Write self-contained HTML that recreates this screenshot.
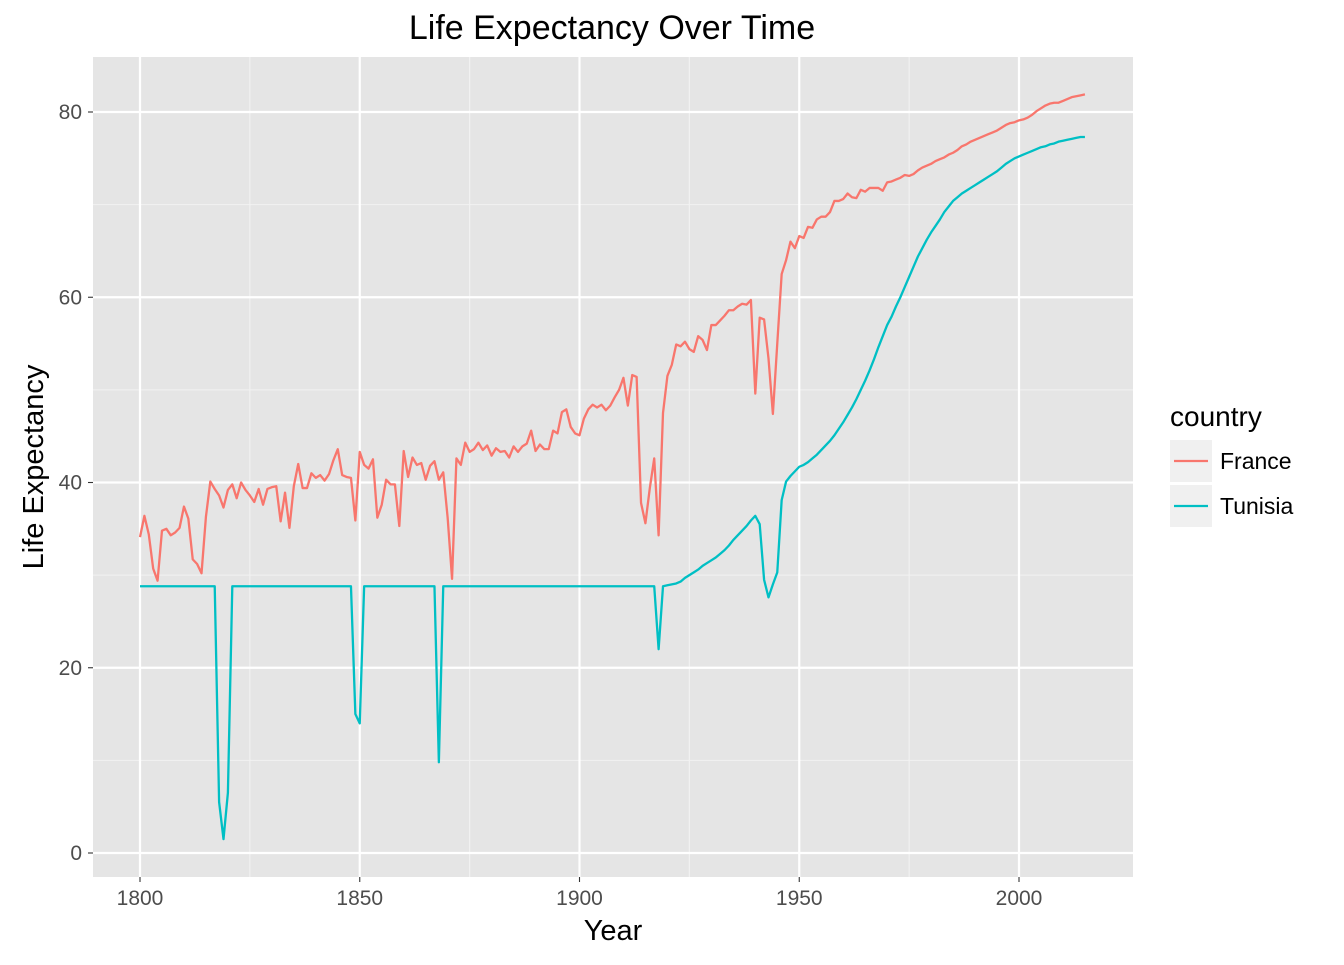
<!DOCTYPE html>
<html><head><meta charset="utf-8"><style>
body{margin:0;background:#fff}
svg text{font-family:"Liberation Sans",Arial,sans-serif}
</style></head><body>
<svg id="chart" width="1344" height="960" xmlns="http://www.w3.org/2000/svg">
<rect width="1344" height="960" fill="#fff"/>
<g id="panel"></g>
<text x="612" y="39" font-size="34" text-anchor="middle" fill="#000">Life Expectancy Over Time</text>
<text x="613" y="940" font-size="29" text-anchor="middle" fill="#000">Year</text>
<text transform="translate(43,467) rotate(-90)" font-size="29" text-anchor="middle" fill="#000">Life Expectancy</text>
<g>
<text x="1170" y="426" font-size="28" fill="#000">country</text>
<rect x="1170" y="440" width="42" height="42" fill="#f0f0f0"/>
<line x1="1174" y1="461" x2="1208" y2="461" stroke="#F8766D" stroke-width="2.3"/>
<text x="1220" y="469" font-size="23" fill="#000">France</text>
<rect x="1170" y="485" width="42" height="42" fill="#f0f0f0"/>
<line x1="1174" y1="506" x2="1208" y2="506" stroke="#00BFC4" stroke-width="2.3"/>
<text x="1220" y="514" font-size="23" fill="#000">Tunisia</text>
</g>
</svg>
<script>
const startYear = 1800;
const france = [34.1,36.4,34.4,30.7,29.4,34.8,35.0,34.3,34.6,35.1,37.4,36.1,31.7,31.2,30.2,36.3,40.1,39.3,38.6,37.3,
39.2,39.8,38.3,40.0,39.2,38.6,37.9,39.3,37.6,39.3,39.5,39.6,35.8,38.9,35.1,39.6,42.0,39.4,39.4,41.0,
40.5,40.8,40.2,40.9,42.4,43.6,40.8,40.6,40.5,35.9,43.3,41.9,41.5,42.5,36.2,37.6,40.3,39.8,39.8,35.3,
43.4,40.6,42.7,41.9,42.1,40.3,41.8,42.3,40.3,41.1,36.2,29.6,42.6,41.9,44.3,43.3,43.6,44.3,43.5,44.0,
42.9,43.7,43.3,43.4,42.7,43.9,43.3,43.9,44.2,45.6,43.4,44.1,43.6,43.6,45.6,45.3,47.6,47.9,46.0,45.3,
45.1,46.9,47.9,48.4,48.1,48.4,47.8,48.3,49.2,50.0,51.3,48.3,51.6,51.4,37.8,35.6,39.4,42.6,34.3,47.5,
51.5,52.7,54.9,54.7,55.2,54.4,54.1,55.8,55.4,54.3,57.0,57.0,57.5,58.0,58.6,58.6,59.0,59.3,59.2,59.7,
49.6,57.8,57.6,53.4,47.4,55.0,62.5,64.0,66.0,65.3,66.6,66.4,67.6,67.5,68.4,68.7,68.7,69.2,70.4,70.4,
70.6,71.2,70.8,70.7,71.6,71.4,71.8,71.8,71.8,71.5,72.4,72.5,72.7,72.9,73.2,73.1,73.3,73.7,74.0,74.2,
74.4,74.7,74.9,75.1,75.4,75.6,75.9,76.3,76.5,76.8,77.0,77.2,77.4,77.6,77.8,78.0,78.3,78.6,78.8,78.9,
79.1,79.2,79.4,79.7,80.1,80.4,80.7,80.9,81.0,81.0,81.2,81.4,81.6,81.7,81.8,81.9];
const tunisia = [28.8,28.8,28.8,28.8,28.8,28.8,28.8,28.8,28.8,28.8,28.8,28.8,28.8,28.8,28.8,28.8,28.8,28.8,5.5,1.5,
6.5,28.8,28.8,28.8,28.8,28.8,28.8,28.8,28.8,28.8,28.8,28.8,28.8,28.8,28.8,28.8,28.8,28.8,28.8,28.8,
28.8,28.8,28.8,28.8,28.8,28.8,28.8,28.8,28.8,15.0,14.0,28.8,28.8,28.8,28.8,28.8,28.8,28.8,28.8,28.8,
28.8,28.8,28.8,28.8,28.8,28.8,28.8,28.8,9.8,28.8,28.8,28.8,28.8,28.8,28.8,28.8,28.8,28.8,28.8,28.8,
28.8,28.8,28.8,28.8,28.8,28.8,28.8,28.8,28.8,28.8,28.8,28.8,28.8,28.8,28.8,28.8,28.8,28.8,28.8,28.8,
28.8,28.8,28.8,28.8,28.8,28.8,28.8,28.8,28.8,28.8,28.8,28.8,28.8,28.8,28.8,28.8,28.8,28.8,22.0,28.8,
28.9,29.0,29.1,29.3,29.7,30.0,30.3,30.6,31.0,31.3,31.6,31.9,32.3,32.7,33.2,33.8,34.3,34.8,35.3,35.9,
36.4,35.5,29.5,27.6,29.0,30.3,38.1,40.1,40.7,41.2,41.7,41.9,42.2,42.6,43.0,43.5,44.0,44.5,45.1,45.8,
46.5,47.3,48.1,49.0,50.0,51.0,52.1,53.3,54.6,55.8,57.0,57.9,59.0,60.0,61.1,62.2,63.3,64.4,65.3,66.2,
67.0,67.7,68.4,69.2,69.8,70.4,70.8,71.2,71.5,71.8,72.1,72.4,72.7,73.0,73.3,73.6,74.0,74.4,74.7,75.0,
75.2,75.4,75.6,75.8,76.0,76.2,76.3,76.5,76.6,76.8,76.9,77.0,77.1,77.2,77.3,77.3];
const xTicks = [1800,1850,1900,1950,2000];
const xMinor = [1825,1875,1925,1975];
const yTicks = [0,20,40,60,80];
const yMinor = [10,30,50,70];

const PX0=93, PX1=1133, PY0=57, PY1=877;
const xs = v => 140 + (v-1800)*(1019-140)/200;
const ys = v => 853 - v*(853-112)/80;
const NS='http://www.w3.org/2000/svg';
const panel=document.getElementById('panel');
const svg=document.getElementById('chart');
function mk(tag,attrs,parent){const e=document.createElementNS(NS,tag);for(const k in attrs)e.setAttribute(k,attrs[k]);(parent||panel).appendChild(e);return e;}
const bg=mk('rect',{x:PX0,y:PY0,width:PX1-PX0,height:PY1-PY0,fill:'#e5e5e5'});


xMinor.forEach(v=>{const l=mk('line',{x1:xs(v),x2:xs(v),y1:PY0,y2:PY1,stroke:'#f2f2f2','stroke-width':1.1});

});
yMinor.forEach(v=>{const l=mk('line',{x1:PX0,x2:PX1,y1:ys(v),y2:ys(v),stroke:'#f2f2f2','stroke-width':1.1});

});
xTicks.forEach(v=>{const l=mk('line',{x1:xs(v),x2:xs(v),y1:PY0,y2:PY1,stroke:'#fff','stroke-width':2.2});


const t=mk('line',{x1:xs(v),x2:xs(v),y1:PY1,y2:PY1+5,stroke:'#333','stroke-width':1.1},svg);


const tx=mk('text',{x:xs(v),y:905,'font-size':21,'text-anchor':'middle',fill:'#4d4d4d'},svg);tx.textContent=v;

});
yTicks.forEach(v=>{const l=mk('line',{x1:PX0,x2:PX1,y1:ys(v),y2:ys(v),stroke:'#fff','stroke-width':2.2});


const t=mk('line',{x1:PX0-5,x2:PX0,y1:ys(v),y2:ys(v),stroke:'#333','stroke-width':1.1},svg);


const tx=mk('text',{x:PX0-11,y:ys(v)+7,'font-size':21,'text-anchor':'end',fill:'#4d4d4d'},svg);tx.textContent=v;

});
function line(arr,color,name){const d=arr.map((v,i)=>(i?'L':'M')+xs(startYear+i).toFixed(2)+','+ys(v).toFixed(2)).join('');
const p=mk('path',{d:d,fill:'none',stroke:color,'stroke-width':2.3,'stroke-linejoin':'round'});

}
line(france,'#F8766D','france-line');
line(tunisia,'#00BFC4','tunisia-line');
</script>
</body></html>
